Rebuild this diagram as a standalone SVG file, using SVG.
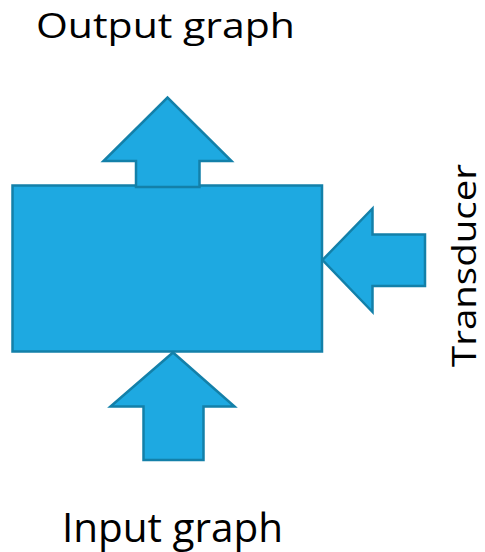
<svg xmlns="http://www.w3.org/2000/svg" width="485" height="552" viewBox="0 0 485 552">
<style>
.shape{fill:#1EA9E1;stroke:#1380A9;stroke-width:2.5;stroke-linejoin:miter}
.lbl{font-family:"Open Sans","Liberation Sans",sans-serif;fill:#000}
</style>
<rect width="485" height="552" fill="#fff"/>
<g id="transducer">
<rect class="shape" x="12.5" y="185.5" width="309.5" height="166"/>
</g>
<g id="connectors">
<polygon id="out-arrow" class="shape" points="136,187 136,161 103.5,161 167.5,97.5 231.5,161 199.5,161 199.5,187"/>
<polygon id="side-arrow" class="shape" points="425,234.5 372.5,234.5 372.5,208.5 322.5,260 372.5,312 372.5,286 425,286"/>
<polygon id="in-arrow" class="shape" points="143.5,460 143.5,406.5 110.5,406.5 173,352.5 234.5,406.5 203.5,406.5 203.5,460"/>
</g>
<g id="labels">
<text class="lbl" x="36" y="38" font-size="34.5" textLength="259" lengthAdjust="spacingAndGlyphs">Output graph</text>
<text class="lbl" x="62" y="541.5" font-size="40" textLength="221" lengthAdjust="spacingAndGlyphs">Input graph</text>
<text class="lbl" transform="translate(476,367) rotate(-90)" x="0" y="0" font-size="32" textLength="203" lengthAdjust="spacingAndGlyphs">Transducer</text>
</g>
</svg>
